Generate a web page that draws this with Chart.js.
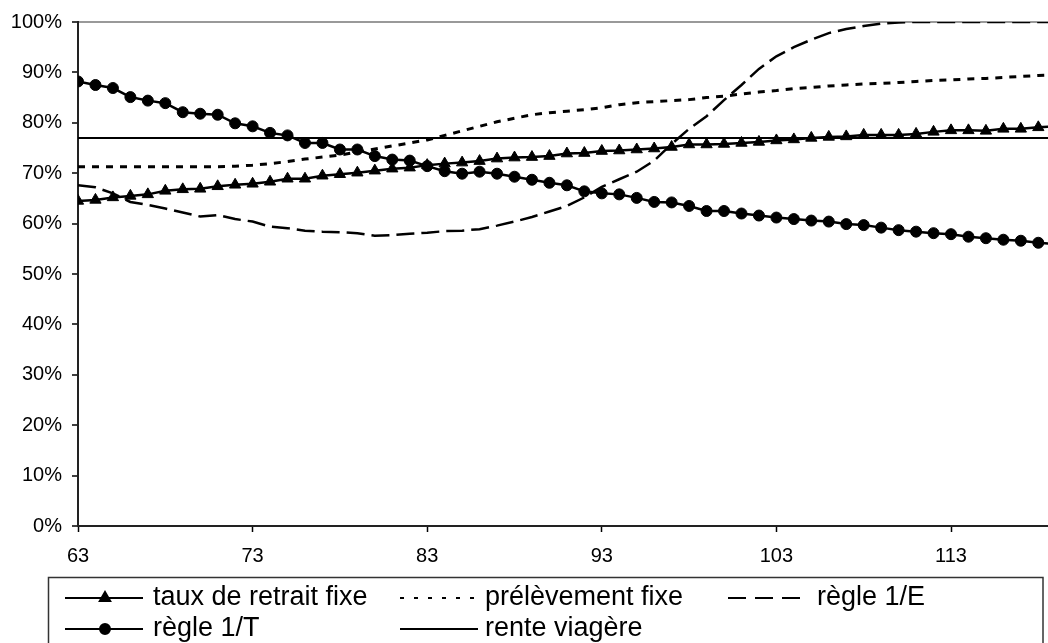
<!DOCTYPE html>
<html>
<head>
<meta charset="utf-8">
<script src="https://cdn.jsdelivr.net/npm/chart.js@4/dist/chart.umd.min.js"></script>
<style>
  html, body { margin: 0; padding: 0; background: #fff; }
  #c { display: block; }
</style>
</head>
<body>
<canvas id="c" width="1048" height="643"></canvas>
<script>
// Age (years)
const ages = [63, 64, 65, 66, 67, 68, 69, 70, 71, 72, 73, 74, 75, 76, 77, 78, 79, 80, 81, 82,
              83, 84, 85, 86, 87, 88, 89, 90, 91, 92, 93, 94, 95, 96, 97, 98, 99, 100, 101, 102,
              103, 104, 105, 106, 107, 108, 109, 110, 111, 112, 113, 114, 115, 116, 117, 118, 119];

// Replacement rate (%) by age for each withdrawal strategy
const tauxRetraitFixe = [64.5, 64.7, 65.2, 65.5, 65.8, 66.5, 66.8, 66.9, 67.4, 67.7, 67.9, 68.3, 68.9, 68.9, 69.5, 69.8, 70.1, 70.5, 70.9, 71.1,
                         71.6, 71.9, 72.1, 72.4, 72.9, 73.1, 73.2, 73.4, 73.9, 74.0, 74.4, 74.5, 74.7, 74.9, 75.2, 75.7, 75.7, 75.8, 76.0, 76.2,
                         76.5, 76.7, 77.0, 77.2, 77.3, 77.6, 77.6, 77.6, 77.8, 78.2, 78.5, 78.5, 78.4, 78.8, 78.8, 79.1, 79.3];

const prelevementFixe = [71.3, 71.3, 71.3, 71.3, 71.3, 71.3, 71.3, 71.3, 71.3, 71.4, 71.6, 71.9, 72.3, 72.8, 73.2, 73.6, 74.2, 74.8, 75.4, 76.0,
                         76.6, 77.5, 78.4, 79.3, 80.2, 80.9, 81.6, 82.0, 82.3, 82.6, 83.0, 83.6, 84.0, 84.2, 84.4, 84.6, 85.0, 85.3, 85.7, 86.1,
                         86.4, 86.8, 87.0, 87.3, 87.5, 87.7, 87.8, 88.0, 88.2, 88.4, 88.5, 88.7, 88.8, 89.0, 89.2, 89.4, 89.5];

const regle1E = [67.6, 67.2, 66.0, 64.3, 63.7, 63.0, 62.2, 61.4, 61.7, 60.9, 60.4, 59.4, 59.1, 58.6, 58.4, 58.3, 58.1, 57.6, 57.7, 58.0,
                 58.2, 58.5, 58.6, 58.9, 59.6, 60.4, 61.3, 62.4, 63.5, 65.2, 67.3, 68.8, 70.3, 72.5, 75.8, 78.8, 81.3, 84.5, 87.5, 90.7,
                 93.2, 95.0, 96.5, 97.8, 98.6, 99.2, 99.7, 99.9, 100, 100, 100, 100, 100, 100, 100, 100, 100];

const regle1T = [88.2, 87.5, 86.9, 85.1, 84.4, 83.9, 82.1, 81.8, 81.6, 79.9, 79.3, 78.0, 77.5, 76.0, 76.0, 74.7, 74.7, 73.4, 72.7, 72.5,
                 71.4, 70.4, 69.9, 70.3, 69.9, 69.3, 68.7, 68.1, 67.6, 66.4, 66.0, 65.8, 65.1, 64.3, 64.2, 63.5, 62.5, 62.5, 62.0, 61.6,
                 61.2, 60.9, 60.6, 60.4, 59.9, 59.7, 59.2, 58.7, 58.4, 58.1, 57.9, 57.4, 57.1, 56.8, 56.6, 56.2, 55.9];

const renteViagere = [77, 77, 77, 77, 77, 77, 77, 77, 77, 77, 77, 77, 77, 77, 77, 77, 77, 77, 77, 77,
                      77, 77, 77, 77, 77, 77, 77, 77, 77, 77, 77, 77, 77, 77, 77, 77, 77, 77, 77, 77,
                      77, 77, 77, 77, 77, 77, 77, 77, 77, 77, 77, 77, 77, 77, 77, 77, 77];

const seriesNames = ['taux de retrait fixe', 'prélèvement fixe', 'règle 1/E', 'règle 1/T', 'rente viagère'];

// Axis tick labels
const xTickValues = [63, 73, 83, 93, 103, 113];
const yTickValues = [0, 10, 20, 30, 40, 50, 60, 70, 80, 90, 100];

const FONT = "'Liberation Sans', Arial, sans-serif";

function pts(values) {
  return ages.map((a, i) => ({ x: a, y: values[i] }));
}

const datasets = [
  { label: seriesNames[0], data: pts(tauxRetraitFixe), borderColor: '#000', backgroundColor: '#000',
    borderWidth: 2.5, pointStyle: 'triangle', pointRadius: 6.5, pointBorderWidth: 1, borderDash: [] },
  { label: seriesNames[1], data: pts(prelevementFixe), borderColor: '#000', backgroundColor: '#000',
    borderWidth: 3, pointRadius: 0, borderDash: [7, 7], legendDash: [4, 10] },
  { label: seriesNames[2], data: pts(regle1E), borderColor: '#000', backgroundColor: '#000',
    borderWidth: 2.5, pointRadius: 0, borderDash: [18, 7], legendDash: [18, 9] },
  { label: seriesNames[3], data: pts(regle1T), borderColor: '#000', backgroundColor: '#000',
    borderWidth: 2.5, pointStyle: 'circle', pointRadius: 5.5, pointBorderWidth: 1, borderDash: [] },
  { label: seriesNames[4], data: pts(renteViagere), borderColor: '#000', backgroundColor: '#000',
    borderWidth: 2, pointRadius: 0, borderDash: [] }
];

// Boxed legend below the axis, two rows of three columns, lines drawn with each series' style
const boxedLegend = {
  id: 'boxedLegend',
  afterDraw(chart) {
    const ctx = chart.ctx;
    const cols = [
      { x0: 65, x1: 143, tx: 153 },
      { x0: 400, x1: 478, tx: 485 },
      { x0: 728, x1: 803, tx: 817 }
    ];
    const rows = [598, 629];
    ctx.save();
    ctx.strokeStyle = '#333';
    ctx.lineWidth = 1.5;
    ctx.strokeRect(48.5, 577.5, 994.5, 90);
    chart.data.datasets.forEach((ds, i) => {
      const c = cols[i % 3];
      const y = rows[Math.floor(i / 3)];
      ctx.save();
      ctx.strokeStyle = ds.borderColor;
      ctx.lineWidth = 2;
      ctx.setLineDash(ds.legendDash || ds.borderDash || []);
      ctx.beginPath();
      ctx.moveTo(c.x0, y);
      ctx.lineTo(c.x1, y);
      ctx.stroke();
      ctx.setLineDash([]);
      if (ds.pointRadius > 0) {
        ctx.fillStyle = ds.backgroundColor;
        Chart.helpers.drawPoint(ctx, {
          pointStyle: ds.pointStyle, radius: ds.pointStyle === 'triangle' ? 6 : 5,
          rotation: 0, borderWidth: 1
        }, (c.x0 + c.x1) / 2 + 1, y);
      }
      ctx.restore();
      ctx.fillStyle = '#000';
      ctx.font = '27px ' + FONT;
      ctx.textBaseline = 'alphabetic';
      ctx.textAlign = 'left';
      ctx.fillText(ds.label, c.tx, y + 7);
    });
    ctx.restore();
  }
};

new Chart(document.getElementById('c'), {
  type: 'line',
  data: { datasets },
  options: {
    responsive: false,
    animation: false,
    devicePixelRatio: 1,
    layout: { autoPadding: false, padding: { top: 19, right: 0, bottom: 0, left: 0 } },
    elements: { line: { tension: 0 } },
    plugins: { legend: { display: false }, tooltip: { enabled: false } },
    scales: {
      x: {
        type: 'linear',
        min: 63,
        max: 63 + 970 / 17.46,
        afterBuildTicks(scale) { scale.ticks = xTickValues.map(v => ({ value: v })); },
        afterFit(scale) {
          scale.height = 117;
          scale.paddingLeft = 0;
          scale.paddingRight = 0;
        },
        grid: { drawOnChartArea: false, drawTicks: true, tickLength: 6, tickColor: '#000', tickWidth: 1.5 },
        border: { color: '#222', width: 2 },
        ticks: { color: '#000', font: { family: FONT, size: 20 }, padding: 12, maxRotation: 0,
                 callback: v => String(v) }
      },
      y: {
        min: 0,
        max: 100,
        afterBuildTicks(scale) { scale.ticks = yTickValues.map(v => ({ value: v })); },
        afterFit(scale) { scale.width = 78; },
        grid: {
          color: c => (c.tick && c.tick.value === 100 ? '#999' : 'rgba(0,0,0,0)'),
          lineWidth: 2,
          drawTicks: true, tickLength: 6, tickColor: '#000', tickWidth: 1.5
        },
        border: { color: '#222', width: 2 },
        ticks: { color: '#000', font: { family: FONT, size: 20 }, padding: 10,
                 callback: v => v + '%' }
      }
    }
  },
  plugins: [boxedLegend]
});
</script>
</body>
</html>
